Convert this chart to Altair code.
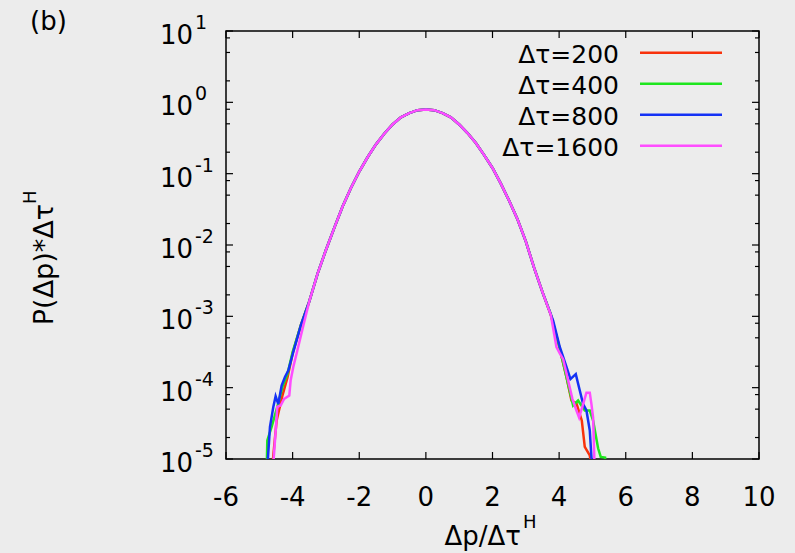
import altair as alt
import pandas as pd

FONT = "DejaVu Sans"

labels = ["Δτ=200", "Δτ=400", "Δτ=800", "Δτ=1600"]
colors = ["#f8320c", "#1ee61e", "#1432f5", "#ff4dff"]

# shared central part (log10 of P*dtau^H)
core_x = [-3.5, -3.25, -3.0, -2.75, -2.5, -2.25, -2.0, -1.75, -1.5, -1.25, -1.0, -0.75, -0.5, -0.25,
          0.0, 0.25, 0.5, 0.75, 1.0, 1.25, 1.5, 1.75, 2.0, 2.25, 2.5, 2.75, 3.0, 3.25, 3.5]
core_e = [-2.79, -2.40, -2.07, -1.76, -1.46, -1.20, -0.97, -0.77, -0.59, -0.44, -0.31, -0.21, -0.15, -0.11,
          -0.10, -0.11, -0.15, -0.21, -0.31, -0.43, -0.57, -0.74, -0.92, -1.14, -1.38, -1.64, -1.95, -2.32, -2.66]

# tails
red_lx = [-4.63, -4.48, -4.3, -4.15, -4.0, -3.75]
red_le = [-5.2, -4.46, -4.1, -3.85, -3.52, -3.12]
red_rx = [3.75, 4.0, 4.22, 4.37, 4.52, 4.68, 4.77, 4.92, 5.0]
red_re = [-2.98, -3.42, -3.85, -4.18, -4.22, -4.46, -4.83, -4.95, -5.2]

green_lx = [-4.78, -4.76, -4.63, -4.45, -4.3, -4.15, -4.0, -3.75]
green_le = [-5.2, -4.74, -4.55, -4.25, -3.98, -3.8, -3.5, -3.12]
green_rx = [3.75, 4.0, 4.12, 4.27, 4.42, 4.57, 4.77, 4.92, 5.02, 5.17, 5.25, 5.38, 5.42]
green_re = [-2.97, -3.42, -3.65, -3.95, -4.25, -4.18, -4.32, -4.32, -4.46, -4.85, -4.97, -4.98, -5.2]

blue_lx = [-4.77, -4.68, -4.58, -4.51, -4.43, -4.33, -4.23, -4.13, -3.98, -3.75]
blue_le = [-5.2, -4.55, -4.27, -4.12, -4.23, -3.97, -3.85, -3.76, -3.50, -3.12]
blue_rx = [3.82, 4.02, 4.22, 4.34, 4.5, 4.62, 4.72, 4.82, 4.92, 5.0]
blue_re = [-3.06, -3.43, -3.71, -3.88, -3.81, -4.04, -4.23, -4.32, -4.6, -5.2]

pink_lx = [-4.6, -4.5, -4.46, -4.36, -4.26, -4.1, -4.06, -3.98, -3.88, -3.68]
pink_le = [-5.2, -4.55, -4.27, -4.25, -4.16, -4.11, -3.9, -3.71, -3.52, -3.13]
pink_rx = [3.75, 3.92, 4.02, 4.12, 4.27, 4.4, 4.52, 4.6, 4.72, 4.82, 4.92, 4.97, 5.02, 5.07]
pink_re = [-2.98, -3.43, -3.52, -3.6, -3.9, -4.16, -4.32, -4.42, -4.23, -4.07, -4.07, -4.23, -4.42, -5.2]

x_ticks = [-6, -4, -2, 0, 2, 4, 6, 8, 10]
x_tick_labels = ["-6", "-4", "-2", "0", "2", "4", "6", "8", "10"]
y_exps = [1, 0, -1, -2, -3, -4, -5]
minor_mult = [2, 5, 8]

tails = [
    (red_lx, red_le, red_rx, red_re),
    (green_lx, green_le, green_rx, green_re),
    (blue_lx, blue_le, blue_rx, blue_re),
    (pink_lx, pink_le, pink_rx, pink_re),
]

rows = []
for lab, (lx, le, rx, re) in zip(labels, tails):
    for xv, ev in zip(lx + core_x + rx, le + core_e + re):
        rows.append({"series": lab, "x": xv, "y": 10.0 ** ev})
df = pd.DataFrame(rows)

W, H = 533, 428
xscale = alt.Scale(domain=[-6, 10], nice=False, zero=False)
yscale = alt.Scale(type="log", domain=[1e-5, 10], nice=False)

layers = []
for lab, col in zip(labels, colors):
    layers.append(
        alt.Chart(df).transform_filter(alt.datum.series == lab)
        .mark_line(clip=True, strokeWidth=2.5, color=col)
        .encode(
            x=alt.X("x:Q", scale=xscale, axis=None),
            y=alt.Y("y:Q", scale=yscale, axis=None),
        )
    )

# ticks (inside, gnuplot style)
ymaj = pd.DataFrame({"v": [10.0 ** e for e in y_exps]})
ymin = pd.DataFrame({"v": [m * 10.0 ** e for e in range(-5, 1) for m in minor_mult]})
xt = pd.DataFrame({"t": x_ticks, "lab": x_tick_labels})

tick_style = dict(color="black", strokeWidth=1.2)
for d, ln in [(ymaj, 7), (ymin, 4)]:
    layers.append(alt.Chart(d).mark_rule(**tick_style).encode(
        y=alt.Y("v:Q", scale=yscale, axis=None), x=alt.value(0), x2=alt.value(ln)))
    layers.append(alt.Chart(d).mark_rule(**tick_style).encode(
        y=alt.Y("v:Q", scale=yscale, axis=None), x=alt.value(W - ln), x2=alt.value(W)))
layers.append(alt.Chart(xt).mark_rule(**tick_style).encode(
    x=alt.X("t:Q", scale=xscale, axis=None), y=alt.value(H - 7), y2=alt.value(H)))
layers.append(alt.Chart(xt).mark_rule(**tick_style).encode(
    x=alt.X("t:Q", scale=xscale, axis=None), y=alt.value(0), y2=alt.value(7)))

# x tick labels
layers.append(alt.Chart(xt).mark_text(align="center", baseline="alphabetic",
                                      font=FONT, fontSize=26, color="black").encode(
    x=alt.X("t:Q", scale=xscale, axis=None), y=alt.value(H + 47), text="lab:N"))

# y tick labels 10^n
ylab = pd.DataFrame({"v": [10.0 ** e for e in y_exps],
                     "ten": ["10"] * len(y_exps),
                     "ex": [str(e) for e in y_exps]})
layers.append(alt.Chart(ylab).mark_text(align="right", baseline="alphabetic", dy=13,
                                        font=FONT, fontSize=26, color="black").encode(
    y=alt.Y("v:Q", scale=yscale, axis=None), x=alt.value(-33), text="ten:N"))
layers.append(alt.Chart(ylab).mark_text(align="left", baseline="alphabetic", dy=-2,
                                        font=FONT, fontSize=19, color="black").encode(
    y=alt.Y("v:Q", scale=yscale, axis=None), x=alt.value(-31), text="ex:N"))

one = pd.DataFrame({"a": [0]})
def txt(s, x, y, size, align="left", angle=0):
    kw = dict(align=align, baseline="alphabetic", font=FONT, fontSize=size, color="black")
    if angle:
        kw["angle"] = angle
    return alt.Chart(one).mark_text(**kw).encode(x=alt.value(x), y=alt.value(y), text=alt.value(s))

layers.append(txt("(b)", -196, -1, 26))
layers.append(txt("Δp/Δτ", 295, 514, 26, align="right"))
layers.append(txt("H", 297, 497, 18))
layers.append(txt("P(Δp)*Δτ", -173, 173, 27, align="right", angle=270))
layers.append(txt("H", -190, 173, 18, align="left", angle=270))

# legend (label left, line sample right)
leg = pd.DataFrame({"series": labels})
leg_y = alt.Y("series:N", sort=labels, axis=None,
              scale=alt.Scale(type="point", range=[21.7, 114.7], padding=0))
layers.append(alt.Chart(leg).mark_text(align="right", baseline="alphabetic", dy=10,
                                       font=FONT, fontSize=25, color="black").encode(
    y=leg_y, x=alt.value(393), text="series:N"))
layers.append(alt.Chart(leg).mark_rule(strokeWidth=2.5).encode(
    y=leg_y, x=alt.value(414), x2=alt.value(496),
    color=alt.Color("series:N", scale=alt.Scale(domain=labels, range=colors), legend=None)))

chart = (
    alt.layer(*layers)
    .resolve_scale(y="independent")
    .properties(width=W, height=H,
                autosize=alt.AutoSizeParams(type="none"),
                padding={"left": 226, "top": 31, "right": 36, "bottom": 94},
                background="#ececec")
    .configure_view(stroke="black", strokeWidth=1.5)
)

chart.save("out.html", embed_options={"renderer": "svg", "actions": False})
